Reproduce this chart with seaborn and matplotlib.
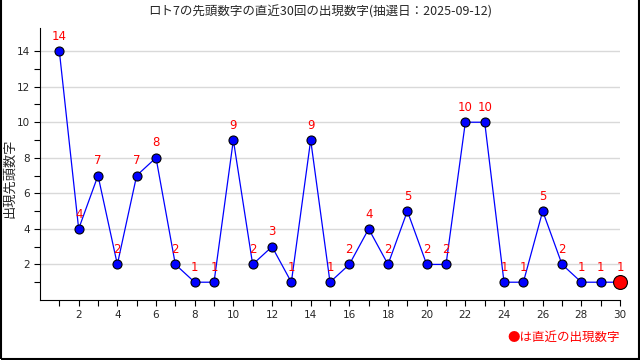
import pandas as pd
import matplotlib.pyplot as plt
import seaborn as sns
from matplotlib.patches import Rectangle

draws = list(range(1, 31))
values = [14, 4, 7, 2, 7, 8, 2, 1, 1, 9, 2, 3, 1, 9, 1,
          2, 4, 2, 5, 2, 2, 10, 10, 1, 1, 5, 2, 1, 1, 1]
title = "ロト7の先頭数字の直近30回の出現数字(抽選日：2025-09-12)"
ylabel = "出現先頭数字"
note = "●は直近の出現数字"

df = pd.DataFrame({'draw': draws, 'value': values})

sns.set_style("white")
plt.rcParams['font.family'] = ['Noto Sans CJK JP', 'DejaVu Sans']

fig = plt.figure(figsize=(6.4, 3.6), dpi=100)
ax = fig.add_axes([0.0625, 0.1667, 0.9063, 0.7555])

ax.yaxis.grid(True, color='#d9d9d9', linewidth=1)
ax.set_axisbelow(True)

sns.lineplot(data=df, x='draw', y='value', ax=ax, color='blue', linewidth=0.9,
             marker='o', markersize=6.5, markerfacecolor='blue',
             markeredgecolor='black', markeredgewidth=0.8, zorder=3)
last = df.iloc[[-1]]
sns.scatterplot(data=last, x='draw', y='value', ax=ax, color='red', s=100,
                edgecolor='black', linewidth=0.8, zorder=4, clip_on=False)

for d, v in zip(draws, values):
    ax.annotate(str(v), (d, v), xytext=(0, 6), textcoords='offset points',
                ha='center', va='bottom', color='red', fontsize=8.5,
                family=['DejaVu Sans'])

ax.set_xlim(0, 30)
ax.set_ylim(0, 15.3)
ax.set_xticks(range(2, 31, 2))
ax.set_xticks(range(1, 30, 2), minor=True)
ax.set_yticks([2, 4, 6, 8, 10, 12, 14])
ax.set_yticks(range(1, 14, 2), minor=True)
ax.tick_params(which='both', direction='out', color='black', labelsize=7.5,
               length=4, width=0.8, bottom=True, left=True, pad=3)
for lab in ax.get_xticklabels() + ax.get_yticklabels():
    lab.set_family('DejaVu Sans')

sns.despine(ax=ax)
ax.spines['left'].set_color('black')
ax.spines['bottom'].set_color('black')
ax.set_xlabel('')
ax.set_ylabel('')

fig.text(0.5, 0.968, title, ha='center', va='center', fontsize=9)
fig.text(0.015, 0.505, ylabel, ha='center', va='center', rotation=90, fontsize=9.5)
fig.text(0.969, 0.063, note, ha='right', va='center', fontsize=9, color='red')

fig.patches.append(Rectangle((0.001, 0.002), 0.997, 1.2, transform=fig.transFigure,
                             fill=False, edgecolor='black', linewidth=1.5))

plt.savefig("out.png", dpi=100)
